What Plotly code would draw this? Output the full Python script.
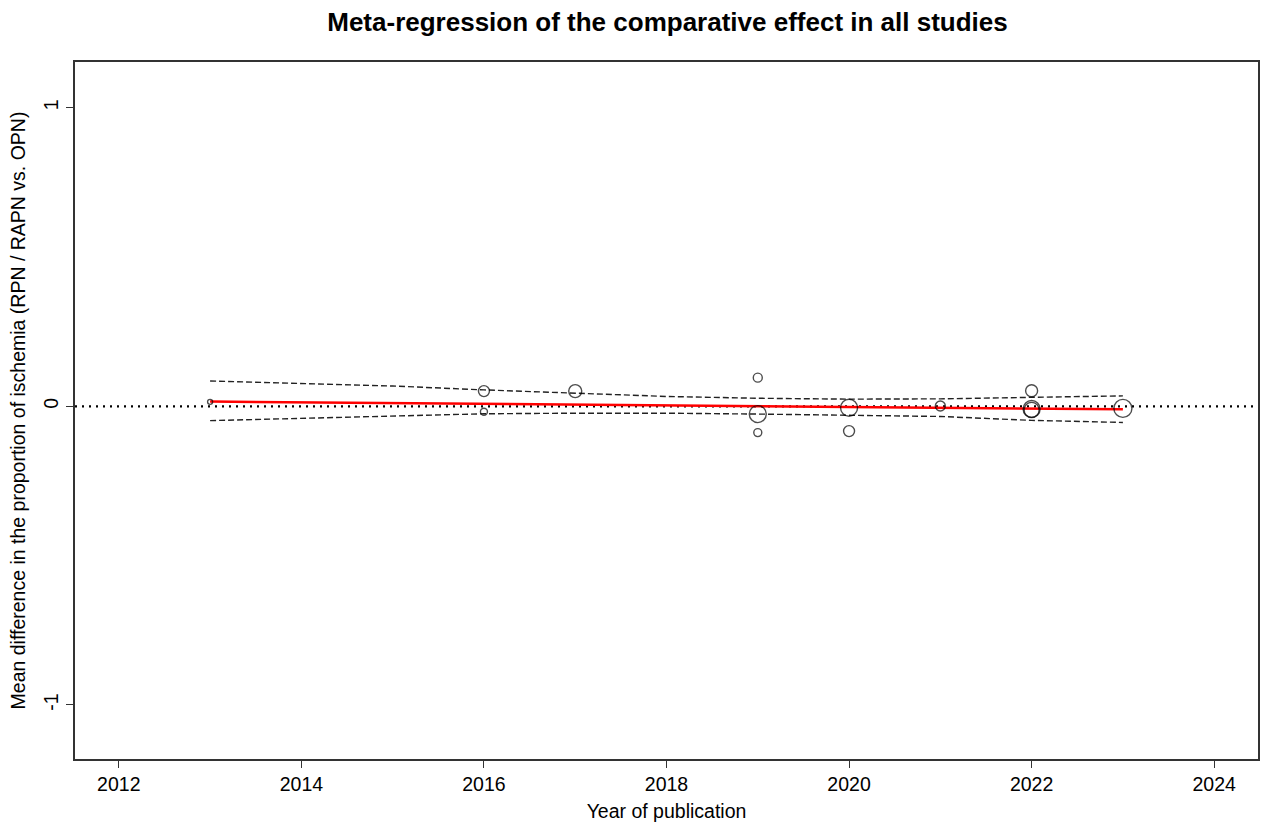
import plotly.graph_objects as go

# Study points (year, effect, marker diameter in px ~ weight)
study_year = [2013, 2016, 2016, 2017, 2019, 2019, 2019, 2020, 2020, 2021, 2022, 2022, 2022, 2023]
study_effect = [0.015, 0.051, -0.018, 0.051, 0.096, -0.026, -0.088, -0.005, -0.083, 0.001, 0.052, -0.009, -0.012, -0.007]
study_size = [5, 11, 7, 13, 9, 17, 8, 17, 11, 10, 12, 17, 15, 18]

# Regression line
fit_year = [2013, 2023]
fit_value = [0.016, -0.010]

# Confidence band
ci_year = [2013, 2014, 2015, 2016, 2017, 2018, 2019, 2020, 2021, 2022, 2023]
ci_upper = [0.085, 0.077, 0.068, 0.055, 0.045, 0.033, 0.027, 0.024, 0.025, 0.031, 0.035]
ci_lower = [-0.048, -0.041, -0.032, -0.025, -0.023, -0.023, -0.026, -0.030, -0.034, -0.047, -0.054]

x_ticks = [2012, 2014, 2016, 2018, 2020, 2022, 2024]
y_ticks = [-1, 0, 1]

FONT = "Liberation Sans, Arial, sans-serif"

fig = go.Figure()

# Reference line at 0
fig.add_trace(go.Scatter(x=[2011.52, 2024.48], y=[0, 0], mode="lines",
                         line=dict(color="black", width=2.2, dash="2px,5px"),
                         hoverinfo="skip", showlegend=False))

fig.add_trace(go.Scatter(x=ci_year, y=ci_upper, mode="lines",
                         line=dict(color="#222222", width=1.4, dash="6px,3px"),
                         showlegend=False))
fig.add_trace(go.Scatter(x=ci_year, y=ci_lower, mode="lines",
                         line=dict(color="#222222", width=1.4, dash="6px,3px"),
                         showlegend=False))

fig.add_trace(go.Scatter(x=fit_year, y=fit_value, mode="lines",
                         line=dict(color="red", width=2.5), showlegend=False))

fig.add_trace(go.Scatter(x=study_year, y=study_effect, mode="markers",
                         marker=dict(symbol="circle-open", size=study_size,
                                     color="black", line=dict(color="black", width=1.4)),
                         showlegend=False))

fig.update_layout(
    width=1264, height=825,
    margin=dict(l=75, r=4, t=62, b=66),
    paper_bgcolor="white", plot_bgcolor="white",
    font=dict(family=FONT, color="black", size=19.5),
    title=dict(text="<b>Meta-regression of the comparative effect in all studies</b>",
               x=667.5 / 1264, xanchor="center",
               y=1 - 22 / 825, yanchor="middle",
               font=dict(size=26, family=FONT, color="black")),
    xaxis=dict(range=[2011.52, 2024.48], tickvals=x_ticks,
               ticktext=[str(v) for v in x_ticks],
               showgrid=False, zeroline=False,
               showline=True, linecolor="#333333", linewidth=1.5, mirror=True,
               ticks="outside", ticklen=7, tickwidth=1.2, tickcolor="#333333",
               tickfont=dict(size=19.5, family=FONT),
               title=dict(text="Year of publication", font=dict(size=19.5, family=FONT), standoff=10)),
    yaxis=dict(range=[-1.181, 1.153], tickvals=y_ticks,
               ticktext=["-1", "0", "1"], tickangle=-90,
               showgrid=False, zeroline=False,
               showline=True, linecolor="#333333", linewidth=1.5, mirror=True,
               ticks="outside", ticklen=7, tickwidth=1.2, tickcolor="#333333",
               tickfont=dict(size=19.5, family=FONT),
               title=dict(text="Mean difference in the proportion of ischemia (RPN / RAPN vs. OPN)",
                          font=dict(size=19.5, family=FONT), standoff=10)),
)

fig.write_html("out.html")
